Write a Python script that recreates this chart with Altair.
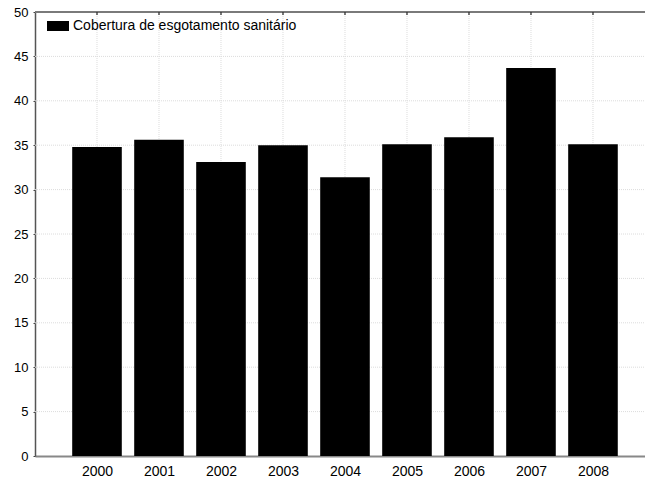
import altair as alt
import pandas as pd

years = [2000, 2001, 2002, 2003, 2004, 2005, 2006, 2007, 2008]
values = [34.8, 35.6, 33.1, 35.0, 31.4, 35.1, 35.9, 43.7, 35.1]
series_name = "Cobertura de esgotamento sanitário"
y_ticks = [0, 5, 10, 15, 20, 25, 30, 35, 40, 45, 50]

df = pd.DataFrame({"year": years, "value": values, "serie": [series_name] * len(years)})

FONT = "Arial, Liberation Sans, sans-serif"
xscale = alt.Scale(domain=[1999, 2008.839], nice=False, zero=False)
yscale = alt.Scale(domain=[0, 50], nice=False)

base = alt.Chart(df)

grid_x = base.mark_rule(color="#dcdcdc", strokeDash=[1, 1], strokeWidth=1).encode(
    x=alt.X("year:Q", scale=xscale),
    y=alt.value(0),
    y2=alt.value(444),
)

grid_df = pd.DataFrame({"t": y_ticks[1:-1]})
grid_y = alt.Chart(grid_df).mark_rule(color="#dcdcdc", strokeDash=[1, 1], strokeWidth=1).encode(
    y=alt.Y("t:Q", scale=yscale),
    x=alt.value(0),
    x2=alt.value(610),
)

bars = base.mark_rect(color="black").transform_calculate(
    x0="datum.year - 0.4", x1="datum.year + 0.4"
).encode(
    x=alt.X(
        "x0:Q",
        scale=xscale,
        axis=alt.Axis(
            values=years, format="d", title=None, ticks=False, grid=False,
            labelPadding=8, labelFontSize=14, labelFont=FONT, labelColor="black",
            domainColor="#888888", domainWidth=2,
        ),
    ),
    x2="x1:Q",
    y=alt.Y(
        "value:Q",
        scale=yscale,
        axis=alt.Axis(
            values=y_ticks, title=None, grid=False, tickSize=2, tickColor="#444444",
            labelPadding=5, labelFontSize=13, labelFont=FONT, labelColor="black",
            domainColor="#555555", domainWidth=1.5,
        ),
    ),
    y2=alt.datum(0),
    color=alt.Color(
        "serie:N",
        scale=alt.Scale(range=["black"]),
        legend=alt.Legend(
            title=None, orient="none", legendX=12, legendY=3,
            symbolType="M-1,-0.4545H1V0.4545H-1Z", symbolSize=484,
            symbolFillColor="black", symbolStrokeWidth=0, symbolOpacity=1,
            labelFont=FONT, labelFontSize=14, labelColor="black", labelOffset=4,
            labelLimit=0, padding=0,
        ),
    ),
)

top_border = alt.Chart(df).mark_rule(color="#7a7a7a", strokeWidth=2).encode(
    x=alt.value(0), x2=alt.value(612), y=alt.value(0)
)

top_ticks = base.mark_rule(color="#333333", strokeWidth=1.3).encode(
    x=alt.X("year:Q", scale=xscale),
    y=alt.value(0),
    y2=alt.value(3),
)

chart = alt.layer(grid_x, grid_y, bars, top_border, top_ticks).properties(
    width=610, height=444,
    autosize=alt.AutoSizeParams(type="none"),
    padding={"left": 35, "top": 12, "right": 0, "bottom": 21},
).configure_view(stroke=None).configure(background="white")

chart.save("out.html", embed_options={"renderer": "svg", "actions": False})
